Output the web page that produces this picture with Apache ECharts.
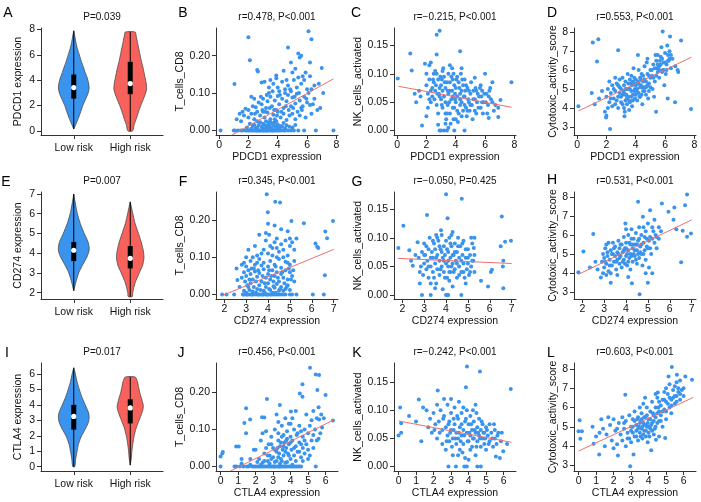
<!DOCTYPE html>
<html><head><meta charset="utf-8">
<script src="https://cdn.jsdelivr.net/npm/echarts@6/dist/echarts.min.js"></script>
<style>html,body{margin:0;padding:0;background:#fff}#c{width:701px;height:502px}</style>
</head><body><div id="c"></div><script>
// ---------------- DATA ----------------
const riskCats = ['Low risk', 'High risk'];
// violin outlines: [expression value, relative half-width]
const violinA_low  = [[0.15,0],[0.5,0.12],[1,0.28],[1.5,0.42],[2,0.55],[2.5,0.72],[3,0.88],[3.4,0.94],[3.8,0.9],[4.2,0.82],[4.6,0.7],[5,0.6],[5.5,0.46],[6,0.34],[6.5,0.22],[7,0.13],[7.5,0.06],[7.9,0]];
const violinA_high = [[0,0.14],[0.5,0.24],[1,0.38],[1.5,0.5],[2,0.64],[2.5,0.8],[3,0.94],[3.3,1.0],[3.7,0.98],[4,0.94],[4.5,0.86],[5,0.78],[5.5,0.68],[6,0.6],[6.5,0.52],[7,0.44],[7.5,0.36],[7.8,0.3]];
const violinE_low  = [[2.1,0],[2.5,0.12],[3,0.3],[3.5,0.6],[3.8,0.8],[4.1,0.93],[4.3,0.94],[4.6,0.86],[5,0.64],[5.5,0.4],[6,0.22],[6.5,0.1],[7,0]];
const violinE_high = [[1.8,0.12],[2,0.15],[2.5,0.3],[3,0.55],[3.4,0.76],[3.8,0.84],[4.2,0.78],[4.6,0.66],[5,0.5],[5.5,0.3],[6,0.16],[6.3,0.08],[6.6,0]];
const violinI_low  = [[0,0.06],[0.5,0.12],[1,0.2],[1.5,0.3],[2,0.48],[2.5,0.74],[2.9,0.9],[3.2,0.94],[3.5,0.9],[4,0.7],[4.5,0.5],[5,0.34],[5.5,0.2],[6,0.1],[6.4,0]];
const violinI_high = [[0.1,0],[0.5,0.06],[1,0.1],[1.5,0.16],[2,0.24],[2.5,0.36],[3,0.54],[3.5,0.72],[3.9,0.8],[4.3,0.72],[4.8,0.58],[5.2,0.5],[5.5,0.44],[5.8,0.3]];
// boxes: [min, q1, median, q3, max]
const boxA = [[0.15,2.55,3.42,4.45,7.9],[0.0,2.9,3.74,5.45,7.8]];
const boxE = [[2.1,3.6,4.15,4.57,7.0],[1.8,3.23,3.74,4.36,6.6]];
const boxI = [[0.0,2.4,3.25,4.0,6.4],[0.1,2.8,3.8,4.36,5.8]];

// tick labels
const ticksPDCD1 = [0,2,4,6,8];
const ticksCD274 = [2,3,4,5,6,7];
const ticksCTLA4 = [0,1,2,3,4,5,6];
const ticksCD8 = [0,0.1,0.2];
const ticksNK = [0,0.05,0.1,0.15];
const ticksCyto = [3,4,5,6,7,8];

// scatter points [x, y]
const ptsB = [[0.1,0],[1.0,0],[1.1,0],[1.3,0],[1.5,0],[1.6,0],[1.8,0],[1.9,0],[2.0,0],[2.1,0],[2.2,0],[2.3,0],[2.4,0],[2.5,0],[2.55,0],[2.6,0],[2.7,0],[2.75,0],[2.8,0],[2.9,0],[3.0,0],[3.05,0],[3.1,0],[3.2,0],[3.25,0],[3.3,0],[3.4,0],[3.5,0],[3.6,0],[3.65,0],[3.7,0],[3.8,0],[3.9,0],[4.0,0],[4.1,0],[4.2,0],[4.4,0],[4.5,0],[4.7,0],[4.9,0],[5.1,0],[5.4,0],[5.8,0],[6.6,0],[7.8,0],
[1.9,0.008],[2.3,0.012],[2.5,0.006],[2.7,0.015],[2.9,0.01],[3.0,0.018],[3.2,0.007],[3.3,0.014],[3.5,0.009],[3.6,0.02],[3.8,0.012],[4.0,0.016],[4.1,0.006],[4.3,0.01],[4.6,0.014],[5.0,0.008],[2.1,0.018],[3.4,0.022],[3.9,0.025],[2.6,0.025],
[1.2,0.03],[1.5,0.025],[1.7,0.04],[2.0,0.035],[2.2,0.045],[2.4,0.03],[2.8,0.04],[3.1,0.035],[3.3,0.048],[3.5,0.03],[3.7,0.042],[3.8,0.03],[4.0,0.05],[4.2,0.035],[4.4,0.045],[4.6,0.028],[4.8,0.04],[5.0,0.045],[5.2,0.03],[5.5,0.04],[5.9,0.035],[6.3,0.045],[2.6,0.05],[3.0,0.05],[1.4,0.045],
[1.8,0.058],[2.0,0.055],[2.3,0.065],[2.5,0.062],[2.7,0.075],[2.9,0.07],[3.0,0.085],[3.2,0.06],[3.3,0.078],[3.5,0.09],[3.6,0.065],[3.8,0.08],[3.9,0.055],[4.0,0.092],[4.1,0.07],[4.3,0.085],[4.4,0.06],[4.6,0.078],[4.7,0.095],[4.9,0.065],[5.0,0.088],[5.2,0.072],[5.3,0.098],[5.5,0.08],[5.6,0.06],[5.8,0.09],[6.0,0.075],[6.2,0.068],[6.4,0.07],[6.7,0.055],[6.9,0.06],[3.4,0.1],[4.5,0.1],[2.2,0.09],
[1.05,0.124],[2.9,0.128],[3.1,0.13],[3.4,0.115],[3.7,0.125],[3.9,0.14],[4.0,0.115],[4.3,0.13],[4.5,0.11],[4.7,0.12],[4.9,0.105],[5.1,0.135],[5.3,0.115],[5.4,0.142],[5.6,0.125],[5.8,0.135],[6.0,0.11],[6.3,0.11],[6.5,0.12],[6.8,0.125],[4.1,0.105],[5.7,0.145],[6.2,0.145],
[2.0,0.249],[2.1,0.188],[2.6,0.162],[2.65,0.158],[3.9,0.147],[4.7,0.222],[4.9,0.182],[5.4,0.206],[5.5,0.195],[5.6,0.2],[6.1,0.265],[6.3,0.244],[6.2,0.182],[7.0,0.167],[5.9,0.155],[4.4,0.16],
[2.2,0.005],[2.4,0.015],[2.6,0.008],[2.8,0.022],[3.0,0.006],[3.1,0.015],[3.2,0.025],[3.3,0.004],[3.4,0.012],[3.5,0.02],[3.6,0.006],[3.7,0.015],[3.8,0.022],[3.9,0.005],[4.0,0.008],[4.2,0.012],[4.4,0.02],[4.5,0.006],[4.8,0.01],[5.2,0.015],[2.45,0.045],[2.95,0.055],[3.15,0.05],[3.45,0.06],[3.75,0.055],[3.95,0.04],[4.25,0.05],[4.55,0.065],[4.75,0.055],[5.05,0.06],[5.35,0.05],[5.65,0.055],[2.85,0.09],[3.25,0.095],[3.65,0.105],[4.15,0.095],[4.85,0.11],[5.15,0.09],[5.45,0.1],[5.95,0.085],[6.1,0.1],[4.6,0.135],[3.5,0.135],[5.0,0.155],[5.2,0.165],[6.5,0.085],[7.1,0.1],[2.4,0.085],[1.6,0.05],[5.7,0.065]];
const ptsC = [[0.05,0.092],[0.9,0.136],[1.0,0.106],[1.5,0.07],[1.6,0.06],[1.7,0.009],[1.9,0.118],[2.3,0.12],[2.7,0.169],[2.9,0.176],[2.7,0.134],[4.3,0.14],[4.6,0],[7.8,0.085],[7.05,0.054],[6.9,0.024],[6.25,0.022],[6.5,0.085],[6.0,0.1],[5.3,0.093],[6.6,0.035],[2.0,0.025],[1.3,0.05],[1.2,0.065],
[2.9,0],[3.0,0],[3.2,0],[3.4,0],[3.9,0],
[2.0,0.08],[2.1,0.065],[2.2,0.09],[2.3,0.05],[2.4,0.075],[2.5,0.1],[2.1,0.04],[2.4,0.06],[2.5,0.085],[2.2,0.055],
[2.6,0.07],[2.7,0.045],[2.8,0.09],[2.9,0.06],[3.0,0.08],[2.6,0.105],[2.8,0.03],[2.9,0.075],[3.0,0.055],[2.7,0.1],[2.75,0.065],
[3.1,0.07],[3.2,0.095],[3.3,0.05],[3.4,0.085],[3.5,0.065],[3.1,0.04],[3.2,0.06],[3.3,0.075],[3.4,0.03],[3.5,0.1],[3.15,0.11],[3.35,0.02],[3.45,0.045],[3.05,0.09],
[3.6,0.07],[3.7,0.055],[3.8,0.09],[3.9,0.04],[4.0,0.075],[3.6,0.03],[3.7,0.095],[3.8,0.06],[3.9,0.08],[4.0,0.05],[3.65,0.012],[3.75,0.11],[3.85,0.02],[3.95,0.065],
[4.1,0.06],[4.2,0.085],[4.3,0.045],[4.4,0.07],[4.5,0.035],[4.1,0.095],[4.2,0.03],[4.3,0.065],[4.4,0.05],[4.5,0.08],[4.15,0.015],[4.35,0.1],
[4.6,0.06],[4.7,0.04],[4.8,0.075],[4.9,0.05],[5.0,0.065],[4.6,0.09],[4.75,0.025],[4.85,0.055],[4.95,0.035],[4.65,0.07],
[5.1,0.045],[5.2,0.07],[5.3,0.055],[5.4,0.03],[5.5,0.065],[5.15,0.02],[5.35,0.075],[5.45,0.05],
[5.6,0.06],[5.7,0.04],[5.8,0.07],[5.9,0.05],[5.65,0.075],[5.85,0.03],[5.75,0.06],
[6.1,0.065],[6.2,0.045],[6.3,0.07],[6.4,0.055],[6.7,0.045],[6.9,0.04],[6.15,0.03],[6.35,0.075],
[2.3,0.07],[2.45,0.09],[2.55,0.055],[2.65,0.08],[2.85,0.065],[2.95,0.095],[3.05,0.045],[3.25,0.085],[3.3,0.03],[3.45,0.07],[3.55,0.05],[3.6,0.085],[3.75,0.07],[3.8,0.04],[3.85,0.1],[3.95,0.055],[4.05,0.09],[4.1,0.035],[4.25,0.075],[4.3,0.055],[4.45,0.09],[4.55,0.06],[4.6,0.045],[4.7,0.08],[4.8,0.035],[4.9,0.07],[5.0,0.045],[5.05,0.085],[5.2,0.055],[5.3,0.035],[5.4,0.07],[5.55,0.04],[5.7,0.08],[5.8,0.05],[5.95,0.065],[6.05,0.05],[6.25,0.06],[6.5,0.05],[2.0,0.1],[2.2,0.115],[3.1,0.105],[3.6,0.115],[4.4,0.11],[2.8,0.01],[3.3,0.012],[4.0,0.02],[4.4,0.025],[3.5,0.005]];
const ptsD = [[0.09,4.1],[1.07,7.45],[1.45,7.63],[1.36,6.45],[2.25,2.9],[1.98,3.5],[2.0,3.6],[2.8,7.05],[5.84,8.04],[6.34,7.77],[7.09,7.56],[7.77,3.95],[6.86,6.0],[6.68,4.3],[6.18,4.5],[5.39,3.8],[3.23,3.57],[1.0,4.8],[1.2,4.2],[1.5,4.5],[1.7,4.9],[1.9,3.8],[2.1,4.0],
[2.0,4.6],[2.1,5.0],[2.2,4.3],[2.3,4.8],[2.4,5.2],[2.5,4.5],[2.2,5.4],[2.4,4.1],
[2.6,4.9],[2.7,5.3],[2.8,4.6],[2.9,5.1],[3.0,4.3],[2.6,5.6],[2.8,4.0],[2.9,5.5],[2.7,4.4],[3.0,5.0],
[3.1,4.7],[3.2,5.2],[3.3,4.4],[3.4,5.0],[3.5,4.6],[3.1,5.6],[3.2,4.0],[3.3,5.4],[3.4,4.2],[3.5,5.3],[3.15,4.9],[3.35,4.7],[3.45,5.8],[3.25,3.8],
[3.6,5.0],[3.7,4.6],[3.8,5.4],[3.9,4.9],[4.0,5.2],[3.6,4.3],[3.7,5.7],[3.8,4.4],[3.9,5.6],[4.0,4.7],[3.65,5.3],[3.75,4.1],[3.85,6.1],[3.95,5.0],[3.55,3.9],
[4.1,5.3],[4.2,4.8],[4.3,5.6],[4.4,5.1],[4.5,5.4],[4.1,4.4],[4.2,6.0],[4.3,4.6],[4.4,5.8],[4.5,4.9],[4.15,6.8],[4.35,5.2],[4.45,4.2],
[4.6,5.5],[4.7,5.1],[4.8,5.8],[4.9,5.3],[5.0,5.6],[4.6,6.2],[4.7,4.7],[4.8,6.6],[4.9,4.9],[5.0,6.0],[4.75,6.4],[4.85,4.5],
[5.1,5.7],[5.2,6.3],[5.3,5.4],[5.4,6.5],[5.5,5.9],[5.15,5.0],[5.35,6.8],[5.45,6.1],[5.25,4.6],
[5.6,6.2],[5.7,6.7],[5.8,5.9],[5.9,6.4],[6.0,6.9],[5.6,5.6],[5.75,7.2],[5.85,6.0],[5.95,5.2],[5.65,6.5],
[6.1,6.3],[6.2,6.8],[6.3,7.0],[6.4,6.1],[6.5,6.6],[6.7,6.2],[6.9,5.9],[6.05,5.8],[6.25,6.5],[6.15,7.3],
[2.3,4.5],[2.5,5.0],[2.6,4.2],[2.8,5.2],[3.0,4.6],[3.1,4.2],[3.2,4.8],[3.3,5.0],[3.4,4.5],[3.5,5.0],[3.55,4.4],[3.6,5.5],[3.7,4.9],[3.75,5.2],[3.8,4.7],[3.9,5.3],[3.95,4.5],[4.0,5.5],[4.05,4.9],[4.1,5.0],[4.2,5.3],[4.25,4.6],[4.3,5.1],[4.35,5.5],[4.4,4.7],[4.5,5.7],[4.55,5.1],[4.6,4.9],[4.7,5.4],[4.8,5.2],[4.9,5.7],[5.0,5.1],[5.1,6.0],[5.2,5.6],[5.3,6.1],[5.4,5.7],[5.5,6.3],[5.6,6.0],[5.7,6.3],[5.8,6.6],[5.9,6.0],[6.0,6.4],[6.1,6.0],[6.2,6.5],[6.3,6.6],[5.5,6.8],[6.4,6.8],[2.9,4.8],[3.3,4.7],[4.15,5.4]];
const ptsF = [[1.9,0],[2.1,0],[2.45,0],[2.85,0],[2.9,0],[3.0,0],[3.05,0],[3.1,0],[3.2,0],[3.25,0],[3.3,0],[3.4,0],[3.5,0],[3.55,0],[3.6,0],[3.7,0],[3.75,0],[3.8,0],[3.9,0],[3.95,0],[4.0,0],[4.1,0],[4.15,0],[4.2,0],[4.3,0],[4.4,0],[4.5,0],[4.6,0],[4.7,0],[4.8,0],[5.0,0],[5.1,0],[5.3,0],[6.05,0],[6.55,0],
[2.9,0.01],[3.1,0.02],[3.3,0.008],[3.5,0.015],[3.6,0.025],[3.8,0.01],[3.9,0.02],[4.0,0.03],[4.1,0.012],[4.3,0.018],[4.4,0.028],[4.5,0.01],[4.6,0.02],[4.8,0.015],[4.9,0.025],[5.0,0.012],[3.2,0.03],[4.2,0.005],
[2.6,0.039],[2.8,0.045],[2.9,0.06],[3.0,0.05],[3.1,0.065],[3.2,0.055],[3.3,0.04],[3.4,0.062],[3.5,0.048],[3.6,0.058],[3.7,0.035],[3.8,0.068],[3.9,0.045],[4.0,0.055],[4.1,0.04],[4.2,0.065],[4.3,0.05],[4.4,0.06],[4.5,0.035],[4.6,0.055],[4.7,0.045],[4.8,0.065],[4.9,0.04],[5.0,0.06],[5.1,0.05],[5.2,0.035],[6.6,0.052],[3.35,0.07],[2.95,0.035],
[2.56,0.07],[2.8,0.08],[3.0,0.075],[3.2,0.09],[3.4,0.08],[3.6,0.095],[3.8,0.085],[4.0,0.075],[4.1,0.09],[4.3,0.08],[4.5,0.095],[4.6,0.072],[4.8,0.088],[5.0,0.08],[5.2,0.09],[3.7,0.078],[4.4,0.1],
[3.4,0.13],[3.5,0.105],[3.8,0.12],[3.9,0.145],[4.0,0.11],[4.1,0.13],[4.2,0.105],[4.3,0.14],[4.4,0.125],[4.5,0.115],[4.6,0.135],[4.7,0.12],[4.8,0.145],[4.9,0.105],[5.0,0.13],[5.1,0.14],[5.3,0.15],[6.17,0.137],[6.3,0.125],[6.25,0.128],[3.1,0.12],
[3.94,0.269],[4.33,0.249],[4.55,0.247],[3.99,0.221],[4.0,0.19],[5.07,0.197],[5.64,0.191],[6.97,0.197],[6.62,0.169],[6.7,0.151],[3.6,0.16],[4.6,0.175],[4.9,0.17],[3.9,0.165],[4.3,0.185],
[3.0,0.005],[3.15,0.012],[3.35,0.02],[3.45,0.005],[3.65,0.012],[3.85,0.005],[4.05,0.015],[4.25,0.022],[4.35,0.005],[4.55,0.015],[4.7,0.01],[4.85,0.02],[3.05,0.025],[3.15,0.04],[3.25,0.07],[3.45,0.035],[3.55,0.065],[3.75,0.05],[3.85,0.03],[4.05,0.065],[4.15,0.05],[4.25,0.035],[4.35,0.075],[4.45,0.045],[4.65,0.06],[4.75,0.03],[4.95,0.07],[5.05,0.04],[5.15,0.065],[3.3,0.1],[3.7,0.11],[4.2,0.125],[4.7,0.1],[5.2,0.12],[4.05,0.16],[4.4,0.15],[5.0,0.15],[3.5,0.085],[4.9,0.085],[2.7,0.02],[3.0,0.1],[2.9,0.085]];
const ptsG = [[1.82,0.082],[2.05,0.121],[3.13,0.14],[4.0,0.176],[4.72,0.168],[4.07,0.134],[3.77,0.113],[6.55,0.137],[6.97,0.095],[6.7,0.093],[6.62,0.06],[6.62,0.012],[5.92,0.015],[6.1,0.044],[6.05,0.04],[5.27,0.082],[2.48,0.051],[2.32,0.078],[6.5,0.085],[6.6,0.05],[2.7,0.092],[2.8,0.02],[5.6,0.025],[5.3,0.1],
[2.9,0],[4.0,0],[4.05,0],[4.1,0],[4.7,0],[3.3,0],
[2.75,0.065],[2.8,0.04],[2.9,0.075],[2.95,0.035],[3.0,0.055],[3.0,0.09],[3.05,0.07],[3.1,0.045],[3.15,0.06],[3.2,0.08],[3.2,0.03],[3.25,0.1],[3.3,0.05],[3.35,0.075],[3.4,0.065],[3.4,0.04],[3.45,0.09],[3.5,0.055],[3.5,0.08],[3.55,0.02],[3.6,0.07],[3.6,0.045],[3.65,0.095],[3.7,0.06],[3.7,0.035],[3.75,0.08],[3.8,0.05],[3.8,0.105],[3.85,0.065],[3.9,0.04],[3.9,0.085],[3.95,0.07],[4.0,0.055],[4.0,0.095],[4.05,0.03],[4.1,0.075],[4.1,0.05],[4.15,0.1],[4.2,0.065],[4.2,0.04],[4.25,0.085],[4.3,0.055],[4.3,0.11],[4.35,0.07],[4.4,0.045],[4.4,0.09],[4.45,0.06],[4.5,0.03],[4.5,0.075],[4.55,0.1],[4.6,0.05],[4.6,0.065],[4.65,0.085],[4.7,0.04],[4.75,0.07],[4.8,0.055],[4.8,0.095],[4.85,0.03],[4.9,0.065],[4.95,0.045],[5.0,0.08],[5.0,0.055],[5.05,0.035],[5.1,0.07],[5.15,0.05],[5.2,0.09],[5.25,0.06],[5.3,0.04],[3.5,0.012],[3.3,0.02],[4.3,0.015],[4.9,0.02],[4.15,0.025],[3.85,0.01],
[2.85,0.05],[3.0,0.07],[3.1,0.085],[3.2,0.05],[3.3,0.065],[3.4,0.095],[3.45,0.03],[3.55,0.065],[3.6,0.1],[3.7,0.085],[3.75,0.045],[3.8,0.075],[3.9,0.06],[3.95,0.03],[4.05,0.08],[4.1,0.06],[4.15,0.04],[4.2,0.09],[4.25,0.05],[4.3,0.07],[4.35,0.04],[4.4,0.075],[4.5,0.055],[4.55,0.085],[4.6,0.035],[4.7,0.06],[4.75,0.09],[4.8,0.04],[4.9,0.08],[5.0,0.065],[5.1,0.04],[5.2,0.06],[5.3,0.07],[2.6,0.07],[2.4,0.06],[4.25,0.105],[3.55,0.105],[5.15,0.1]];
const ptsH = [[1.82,4.05],[2.05,5.13],[2.5,6.05],[2.35,4.3],[2.85,3.78],[3.3,3.5],[4.62,2.9],[4.27,3.47],[4.55,7.74],[5.64,7.65],[5.94,7.22],[6.21,7.44],[6.79,8.12],[6.7,7.56],[6.59,6.22],[6.52,4.57],[6.79,5.91],[6.97,6.08],[6.17,6.8],[5.0,3.5],[4.77,6.95],[3.97,6.6],[5.3,6.8],[5.1,7.3],[6.3,6.3],[2.6,4.6],[2.7,4.2],[5.2,4.0],[4.9,4.0],
[2.9,4.6],[2.95,5.0],[3.0,4.3],[3.0,4.8],[3.05,5.3],[3.1,4.5],[3.15,4.9],[3.2,5.6],[3.2,4.1],[3.25,4.7],[3.3,5.2],[3.35,4.4],[3.4,5.0],[3.4,5.6],[3.45,4.6],[3.5,4.9],[3.5,5.4],[3.55,4.2],[3.6,5.1],[3.6,4.7],[3.65,5.7],[3.7,4.5],[3.7,5.3],[3.75,4.9],[3.8,5.5],[3.8,4.3],[3.85,5.1],[3.9,4.7],[3.9,5.9],[3.95,5.3],[4.0,4.9],[4.0,5.6],[4.05,4.4],[4.1,5.2],[4.1,6.0],[4.15,4.8],[4.2,5.5],[4.2,5.0],[4.25,6.3],[4.3,4.6],[4.3,5.3],[4.35,5.8],[4.4,4.9],[4.4,5.5],[4.45,6.1],[4.5,4.5],[4.5,5.2],[4.55,5.7],[4.6,4.8],[4.6,6.4],[4.65,5.4],[4.7,5.0],[4.7,6.0],[4.75,4.4],[4.8,5.6],[4.85,5.2],[4.9,6.2],[4.9,4.7],[4.95,5.8],[5.0,5.3],[5.0,6.6],[5.05,4.3],[5.1,5.9],[5.15,5.0],[5.2,6.4],[5.3,5.6],[5.35,6.0],[5.4,5.3],[5.5,5.8],[5.6,6.2],[3.3,4.0],[3.6,3.9],[4.1,3.8],[4.2,4.2],[3.1,3.9],
[3.05,4.6],[3.15,5.1],[3.25,4.4],[3.35,5.0],[3.45,5.3],[3.55,4.6],[3.65,5.0],[3.7,4.8],[3.75,5.5],[3.85,4.6],[3.9,5.2],[3.95,4.5],[4.0,5.3],[4.05,5.0],[4.1,4.6],[4.15,5.6],[4.25,4.9],[4.3,5.5],[4.35,5.0],[4.4,5.2],[4.45,4.7],[4.5,5.5],[4.55,5.0],[4.6,5.8],[4.65,5.1],[4.7,5.5],[4.8,5.0],[4.85,5.9],[4.95,5.4],[5.05,5.7],[5.1,5.3],[5.2,5.8],[5.25,6.2],[5.4,5.9],[5.5,6.4],[2.95,4.0],[3.1,5.5],[4.25,5.8],[4.0,6.3],[4.8,6.4]];
const ptsJ = [[0,0],[0.8,0],[0.9,0],[1.1,0],[1.3,0],[1.5,0],[1.6,0],[1.8,0],[1.9,0],[2.0,0],[2.1,0],[2.2,0],[2.3,0],[2.4,0],[2.5,0],[2.6,0],[2.7,0],[2.8,0],[2.9,0],[3.0,0],[3.05,0],[3.1,0],[3.2,0],[3.3,0],[3.35,0],[3.4,0],[3.5,0],[3.6,0],[3.7,0],[3.8,0],[3.9,0],[4.0,0],[4.1,0],[4.2,0],[4.3,0],[4.4,0],[4.5,0],[4.6,0],[5.44,0],
[0,0.027],[0.13,0.039],[0.1,0.035],[0.89,0.054],[1.04,0.054],[1.2,0.008],[1.7,0.02],[1.9,0.045],[2.0,0.045],[2.2,0.02],[2.4,0.01],[2.5,0.035],[2.6,0.05],[2.7,0.015],[2.8,0.03],[2.9,0.06],[3.0,0.025],[3.1,0.045],[3.2,0.015],[3.3,0.07],[3.35,0.035],[3.4,0.055],[3.45,0.02],[3.5,0.08],[3.55,0.045],[3.6,0.03],[3.65,0.065],[3.7,0.01],[3.75,0.05],[3.8,0.075],[3.85,0.035],[3.9,0.06],[4.0,0.02],[4.05,0.045],[4.1,0.07],[4.2,0.03],[4.3,0.055],[4.4,0.04],[4.5,0.065],[4.6,0.025],[4.7,0.05],[4.8,0.035],[4.9,0.06],[5.0,0.045],[5.1,0.03],[5.2,0.07],[3.25,0.05],[2.75,0.06],
[1.46,0.09],[2.3,0.07],[2.6,0.095],[2.9,0.08],[3.1,0.1],[3.3,0.09],[3.5,0.11],[3.6,0.085],[3.8,0.095],[4.0,0.08],[4.2,0.1],[4.4,0.09],[4.5,0.11],[4.7,0.08],[4.8,0.1],[5.0,0.09],[5.1,0.11],[5.3,0.085],[5.4,0.1],[5.6,0.075],[5.7,0.09],[3.9,0.115],[4.6,0.095],
[1.36,0.117],[1.46,0.157],[1.69,0.127],[2.37,0.133],[2.5,0.132],[2.65,0.182],[3.39,0.166],[4.02,0.148],[4.53,0.197],[4.68,0.222],[4.68,0.188],[5.11,0.266],[5.44,0.248],[5.63,0.247],[5.53,0.206],[6.0,0.193],[6.42,0.124],[5.63,0.127],[5.75,0.14],[5.5,0.13],[4.3,0.15],[3.7,0.13],[3.2,0.14],[4.9,0.14],[5.3,0.15],[5.6,0.16],[4.1,0.13],
[1.2,0.02],[1.7,0.005],[2.1,0.012],[2.3,0.005],[2.5,0.015],[2.7,0.03],[2.8,0.008],[2.9,0.02],[3.0,0.05],[3.1,0.012],[3.2,0.04],[3.3,0.025],[3.4,0.008],[3.45,0.065],[3.5,0.015],[3.6,0.055],[3.7,0.04],[3.75,0.07],[3.8,0.012],[3.9,0.03],[4.0,0.065],[4.1,0.005],[4.2,0.05],[4.3,0.015],[4.35,0.085],[4.5,0.04],[4.6,0.06],[4.7,0.015],[4.8,0.07],[5.0,0.02],[5.3,0.05],[5.5,0.07],[2.4,0.09],[3.3,0.12],[4.0,0.115],[5.2,0.125],[5.8,0.105],[5.9,0.13]];
const ptsK = [[0,0.055],[0.09,0.105],[0.15,0.077],[0.15,0.06],[1.16,0.119],[2.24,0.135],[3.85,0.141],[3.91,0.178],[4.65,0.169],[6.41,0.138],[4.7,0],[4.5,0],[2.85,0],[3.28,0],[3.76,0],[3.9,0],[5.56,0.018],[5.79,0.015],[5.98,0.027],[0.6,0.09],[1.0,0.08],[1.4,0.105],[1.3,0.045],[1.6,0.1],[5.9,0.06],[6.2,0.04],
[1.7,0.07],[1.8,0.085],[1.9,0.06],[2.0,0.095],[2.1,0.075],[2.2,0.05],[2.3,0.08],[2.4,0.1],[2.5,0.065],[2.5,0.04],[2.6,0.09],[2.7,0.07],[2.7,0.03],[2.8,0.055],[2.8,0.11],[2.9,0.08],[2.9,0.045],[3.0,0.065],[3.0,0.095],[3.1,0.05],[3.1,0.02],[3.2,0.075],[3.2,0.105],[3.3,0.06],[3.3,0.04],[3.4,0.085],[3.4,0.05],[3.5,0.07],[3.5,0.03],[3.6,0.095],[3.6,0.055],[3.7,0.065],[3.7,0.04],[3.8,0.08],[3.8,0.015],[3.9,0.06],[3.9,0.1],[4.0,0.045],[4.0,0.075],[4.1,0.055],[4.1,0.09],[4.2,0.035],[4.2,0.065],[4.3,0.05],[4.3,0.08],[4.4,0.06],[4.4,0.02],[4.5,0.07],[4.5,0.045],[4.6,0.055],[4.6,0.085],[4.7,0.035],[4.7,0.065],[4.8,0.05],[4.8,0.075],[4.9,0.04],[4.9,0.06],[5.0,0.07],[5.0,0.03],[5.1,0.055],[5.2,0.045],[5.2,0.075],[5.3,0.06],[5.4,0.035],[5.5,0.065],[5.5,0.05],[5.6,0.04],[5.7,0.06],[3.45,0.115],[4.25,0.1],[3.15,0.085],[2.6,0.12],[3.65,0.025],[4.45,0.095],
[2.05,0.065],[2.35,0.06],[2.55,0.085],[2.75,0.045],[2.85,0.075],[2.95,0.06],[3.05,0.035],[3.15,0.065],[3.25,0.05],[3.35,0.09],[3.45,0.06],[3.55,0.045],[3.6,0.075],[3.75,0.055],[3.85,0.085],[3.95,0.045],[4.05,0.06],[4.15,0.075],[4.25,0.05],[4.35,0.065],[4.45,0.035],[4.55,0.06],[4.65,0.05],[4.75,0.08],[4.85,0.06],[4.95,0.05],[5.05,0.065],[5.15,0.04],[5.35,0.05],[5.45,0.075],[5.65,0.055],[5.85,0.045],[2.2,0.11],[3.0,0.12],[3.7,0.105],[4.4,0.11],[3.4,0.02],[4.0,0.012],[4.1,0.03]];
const ptsL = [[0.06,5.34],[0,4.77],[0.19,4.77],[0.1,4.39],[0.86,4.13],[1.18,3.57],[2.25,3.52],[2.67,6.66],[2.95,2.97],[3.14,3.57],[5.33,8.09],[5.62,7.69],[6.1,7.6],[6.48,7.43],[5.14,7.6],[4.53,6.78],[4.15,3.79],[4.42,4.34],[4.95,4.43],[0.8,5.0],[1.0,4.5],[1.3,5.4],[1.5,4.0],[1.7,5.5],[2.0,3.9],[5.6,7.3],[5.0,7.0],
[1.2,4.7],[1.4,4.9],[1.6,4.6],[1.8,5.1],[1.9,4.3],[2.0,5.4],[2.1,4.8],[2.2,4.1],[2.3,5.2],[2.4,4.6],[2.5,5.5],[2.5,4.3],[2.6,4.9],[2.7,5.3],[2.7,4.0],[2.8,4.7],[2.9,5.6],[2.9,4.4],[3.0,5.0],[3.0,4.2],[3.1,5.4],[3.1,4.7],[3.2,5.8],[3.2,4.5],[3.3,5.1],[3.3,4.8],[3.4,5.5],[3.4,4.3],[3.45,5.0],[3.5,6.0],[3.5,4.7],[3.55,5.3],[3.6,4.9],[3.6,5.7],[3.65,4.4],[3.7,5.2],[3.7,6.2],[3.75,4.8],[3.8,5.5],[3.85,4.5],[3.9,5.0],[3.9,6.0],[3.95,4.2],[4.0,5.4],[4.0,4.7],[4.1,5.8],[4.1,4.9],[4.2,6.3],[4.2,5.2],[4.3,4.6],[4.3,5.6],[4.4,6.0],[4.4,5.0],[4.5,5.7],[4.5,6.5],[4.6,5.3],[4.6,4.5],[4.7,6.1],[4.7,5.6],[4.8,6.4],[4.8,5.0],[4.9,5.9],[5.0,6.3],[5.0,5.4],[5.1,6.7],[5.2,6.0],[5.3,6.4],[5.3,5.7],[5.4,6.9],[5.5,6.2],[5.6,6.6],[5.7,6.8],[5.8,6.4],[5.9,6.9],[6.0,6.6],[5.5,7.1],[5.8,7.4],[4.9,6.8],[4.4,6.7],[3.8,6.5],
[2.2,4.9],[2.6,5.2],[2.8,4.4],[3.0,4.8],[3.1,5.0],[3.2,5.3],[3.3,4.5],[3.35,5.4],[3.4,4.9],[3.5,5.2],[3.55,4.5],[3.6,5.4],[3.65,5.0],[3.7,4.6],[3.75,5.5],[3.8,5.1],[3.85,4.8],[3.9,5.6],[3.95,5.2],[4.0,5.0],[4.05,4.5],[4.1,5.4],[4.15,5.1],[4.2,4.8],[4.25,5.7],[4.3,5.3],[4.35,4.9],[4.4,5.5],[4.5,5.2],[4.55,6.0],[4.6,5.8],[4.7,5.3],[4.8,5.8],[4.9,6.4],[5.0,5.8],[5.1,6.2],[5.2,6.5],[5.3,6.1],[5.4,6.5],[5.5,6.6],[5.6,6.3],[5.7,7.0],[5.8,6.7],[6.0,7.0],[5.2,7.2],[4.6,6.3]];

// fitted regression lines: start and end points [x, y]
const fitB = [[0.83,-0.013],[7.8,0.138]];
const fitC = [[0.1,0.078],[7.8,0.041]];
const fitD = [[0.1,3.85],[7.8,6.68]];
const fitF = [[1.9,-0.003],[7.0,0.121]];
const fitG = [[1.8,0.064],[7.0,0.055]];
const fitH = [[1.82,3.94],[7.0,6.79]];
const fitJ = [[0.57,-0.012],[6.44,0.125]];
const fitK = [[0.0,0.081],[6.45,0.043]];
const fitL = [[0.0,3.75],[6.55,6.52]];

// ---------------- LAYOUT / STYLE ----------------
const FONT = '"Liberation Sans", Arial, Helvetica, sans-serif';
const BLUE = '#3A93EC', RED = '#F8625C', FITC = '#F07068', AXC = '#333', TXT = '#111';
const colLeft = [41, 216, 394, 574];
const rowTop = [28, 192, 363];
const rowH = [107, 107, 108];
const W = 122;
const VIOLIN_HALF = 0.29;
const yNameGap = [17, 28, 28, 15.5];

const panels = [
 {id:'A', col:0,row:0, violin:true, title:'P=0.039', yName:'PDCD1 expression', yMin:-0.32,yMax:8.12, yTicks:[0,2,4,6,8], shapes:[violinA_low,violinA_high], boxes:boxA},
 {id:'B', col:1,row:0, title:'r=0.478, P<0.001', xName:'PDCD1 expression', yName:'T_cells_CD8', xMin:-0.21,xMax:8.11, xTicks:ticksPDCD1, yMin:-0.012,yMax:0.274, yTicks:ticksCD8, dec:2, pts:ptsB, fit:fitB},
 {id:'C', col:2,row:0, title:'r=\u22120.215, P<0.001', xName:'PDCD1 expression', yName:'NK_cells_activated', xMin:-0.21,xMax:8.11, xTicks:ticksPDCD1, yMin:-0.008,yMax:0.181, yTicks:ticksNK, dec:2, pts:ptsC, fit:fitC},
 {id:'D', col:3,row:0, title:'r=0.553, P<0.001', xName:'PDCD1 expression', yName:'Cytotoxic_activity_score', xMin:-0.21,xMax:8.11, xTicks:ticksPDCD1, yMin:2.58,yMax:8.22, yTicks:ticksCyto, dec:0, pts:ptsD, fit:fitD},
 {id:'E', col:0,row:1, violin:true, title:'P=0.007', yName:'CD274 expression', yMin:1.68,yMax:7.1, yTicks:[2,3,4,5,6,7], shapes:[violinE_low,violinE_high], boxes:boxE},
 {id:'F', col:1,row:1, title:'r=0.345, P<0.001', xName:'CD274 expression', yName:'T_cells_CD8', xMin:1.62,xMax:7.2, xTicks:ticksCD274, yMin:-0.012,yMax:0.275, yTicks:ticksCD8, dec:2, pts:ptsF, fit:fitF},
 {id:'G', col:2,row:1, title:'r=\u22120.050, P=0.425', xName:'CD274 expression', yName:'NK_cells_activated', xMin:1.62,xMax:7.2, xTicks:ticksCD274, yMin:-0.007,yMax:0.18, yTicks:ticksNK, dec:2, pts:ptsG, fit:fitG},
 {id:'H', col:3,row:1, title:'r=0.531, P<0.001', xName:'CD274 expression', yName:'Cytotoxic_activity_score', xMin:1.62,xMax:7.2, xTicks:ticksCD274, yMin:2.65,yMax:8.25, yTicks:ticksCyto, dec:0, pts:ptsH, fit:fitH},
 {id:'I', col:0,row:2, violin:true, title:'P=0.017', yName:'CTLA4 expression', yMin:-0.28,yMax:6.71, yTicks:[0,1,2,3,4,5,6], shapes:[violinI_low,violinI_high], boxes:boxI},
 {id:'J', col:1,row:2, title:'r=0.456, P<0.001', xName:'CTLA4 expression', yName:'T_cells_CD8', xMin:-0.26,xMax:6.71, xTicks:ticksCTLA4, yMin:-0.012,yMax:0.279, yTicks:ticksCD8, dec:2, pts:ptsJ, fit:fitJ},
 {id:'K', col:2,row:2, title:'r=\u22120.242, P<0.001', xName:'CTLA4 expression', yName:'NK_cells_activated', xMin:-0.26,xMax:6.71, xTicks:ticksCTLA4, yMin:-0.008,yMax:0.184, yTicks:ticksNK, dec:2, pts:ptsK, fit:fitK},
 {id:'L', col:3,row:2, title:'r=0.603, P<0.001', xName:'CTLA4 expression', yName:'Cytotoxic_activity_score', xMin:-0.26,xMax:6.71, xTicks:ticksCTLA4, yMin:2.72,yMax:8.3, yTicks:ticksCyto, dec:0, pts:ptsL, fit:fitL}
];
const letterPos = {A:[8,13],B:[183,13],C:[356,13],D:[552,13],E:[6,182],F:[183,182],G:[357,182],H:[552,180],I:[7,353],J:[181,353],K:[357,353],L:[551,353]};

const grids=[], xAxes=[], yAxes=[], series=[], graphics=[];
function axisBase(){
  return {
    axisLine:{show:true,onZero:false,lineStyle:{color:AXC,width:1}},
    axisTick:{show:true,length:4,lineStyle:{color:AXC,width:1}},
    splitLine:{show:false},
    nameTextStyle:{fontSize:10.5,color:TXT,fontFamily:FONT}
  };
}
panels.forEach((p,i)=>{
  const left=colLeft[p.col], top=rowTop[p.row], h=rowH[p.row];
  grids.push({left:left, top:top, width:W, height:h, containLabel:false});
  const xa = Object.assign(axisBase(), {gridIndex:i, type:'value'});
  const ya = Object.assign(axisBase(), {gridIndex:i, type:'value', min:p.yMin, max:p.yMax,
     name:p.yName, nameLocation:'middle', nameGap:yNameGap[p.col]});
  ya.axisTick.customValues = p.yTicks;
  ya.axisLabel = {customValues:p.yTicks, fontSize:10.5, color:TXT, fontFamily:FONT, margin:6,
     formatter: (v)=> p.dec ? Number(v).toFixed(p.dec) : String(Math.round(v))};
  if (p.violin){
    xa.min=0.42; xa.max=2.58;
    xa.axisTick.customValues=[1,2];
    xa.axisLabel={customValues:[1,2], fontSize:10.5, color:TXT, fontFamily:FONT, margin:8,
       formatter:(v)=>riskCats[Math.round(v)-1]};
    const colors=[BLUE,RED];
    series.push({type:'custom', xAxisIndex:i, yAxisIndex:i, silent:true, animation:false,
      data:[[1,0],[2,1]],
      renderItem:(params, api)=>{
        const k=params.dataIndex, cx=k+1, shape=p.shapes[k], b=p.boxes[k];
        const right=shape.map(s=>api.coord([cx+s[1]*VIOLIN_HALF, s[0]]));
        const leftSide=shape.slice().reverse().map(s=>api.coord([cx-s[1]*VIOLIN_HALF, s[0]]));
        const c0=api.coord([cx,b[0]]), c4=api.coord([cx,b[4]]);
        const q1=api.coord([cx,b[1]]), q3=api.coord([cx,b[3]]), md=api.coord([cx,b[2]]);
        return {type:'group', children:[
          {type:'polygon', shape:{points:right.concat(leftSide), smooth:0.25}, style:{fill:colors[k], stroke:'#4a4a4a', lineWidth:0.8}},
          {type:'line', shape:{x1:c0[0],y1:c0[1],x2:c4[0],y2:c4[1]}, style:{stroke:'#000', lineWidth:1}},
          {type:'rect', shape:{x:q3[0]-2.5, y:q3[1], width:5, height:q1[1]-q3[1]}, style:{fill:'#000'}},
          {type:'circle', shape:{cx:md[0], cy:md[1], r:2.6}, style:{fill:'#fff'}}
        ]};
      }});
  } else {
    xa.min=p.xMin; xa.max=p.xMax;
    xa.name=p.xName; xa.nameLocation='middle'; xa.nameGap=17;
    xa.axisTick.customValues=p.xTicks;
    xa.axisLabel={customValues:p.xTicks, fontSize:10.5, color:TXT, fontFamily:FONT, margin:5,
       formatter:(v)=>String(Math.round(v))};
    series.push({type:'scatter', xAxisIndex:i, yAxisIndex:i, data:p.pts, symbolSize:4, silent:true, animation:false,
      itemStyle:{color:BLUE, opacity:1}});
    series.push({type:'line', xAxisIndex:i, yAxisIndex:i, data:p.fit, symbol:'none', silent:true, animation:false,
      lineStyle:{color:FITC, width:1}, z:3});
  }
  xAxes.push(xa); yAxes.push(ya);
  graphics.push({type:'text', x:left+W/2, y:top-11, silent:true,
    style:{text:p.title, fontSize:10, fontFamily:FONT, fill:TXT, align:'center', verticalAlign:'middle'}});
  const lp=letterPos[p.id];
  graphics.push({type:'text', x:lp[0], y:lp[1], silent:true,
    style:{text:p.id, fontSize:14, fontFamily:FONT, fill:'#000', align:'center', verticalAlign:'middle'}});
});

const chart = echarts.init(document.getElementById('c'), null, {renderer:'canvas'});
chart.setOption({
  animation:false,
  backgroundColor:'#fff',
  textStyle:{fontFamily:FONT},
  grid:grids, xAxis:xAxes, yAxis:yAxes, series:series, graphic:graphics
});
</script></body></html>
